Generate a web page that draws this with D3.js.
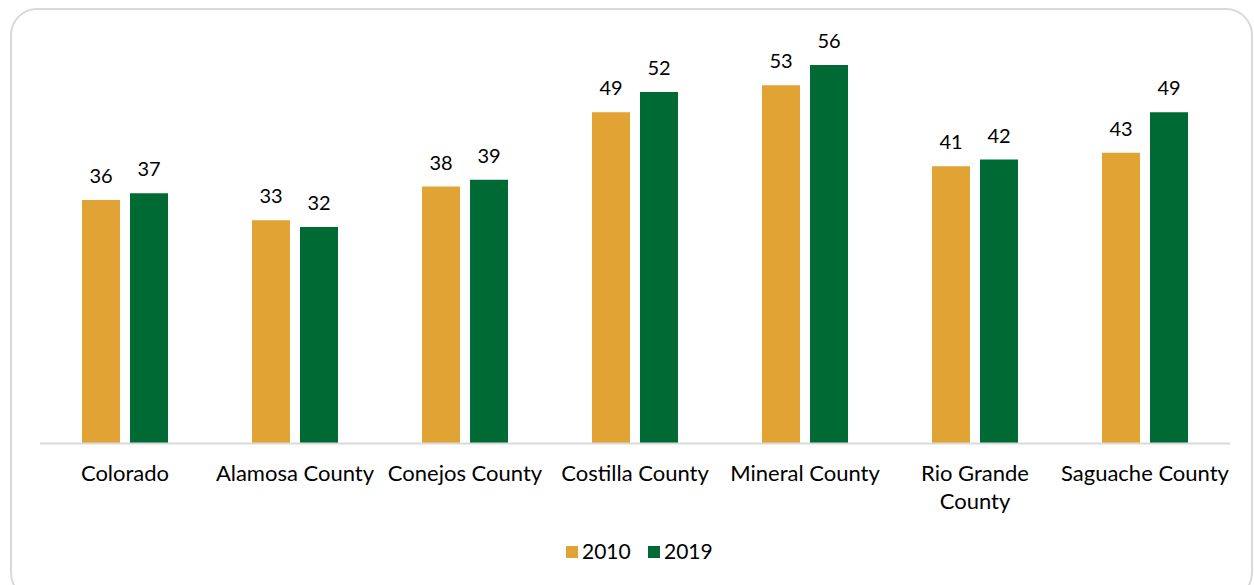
<!DOCTYPE html>
<html>
<head>
<meta charset="utf-8">
<script src="https://cdn.jsdelivr.net/npm/d3@7"></script>
<style>
  body { margin: 0; background: #fff; }
  svg text { font-family: Lato, "Open Sans", sans-serif; fill: #000; }
</style>
</head>
<body>
<div id="chart"></div>
<script>
// chart data
const categories = ["Colorado", "Alamosa County", "Conejos County", "Costilla County",
                    "Mineral County", "Rio Grande County", "Saguache County"];
const seriesNames = ["2010", "2019"];
const values2010 = [36, 33, 38, 49, 53, 41, 43];
const values2019 = [37, 32, 39, 52, 56, 42, 49];
const seriesColors = ["#E1A333", "#006A35"];

const W = 1254, H = 585;
const svg = d3.select("#chart").append("svg")
    .attr("width", W).attr("height", H);

// outer rounded frame
svg.append("rect")
    .attr("x", 11).attr("y", 9)
    .attr("width", 1241).attr("height", 590)
    .attr("rx", 26)
    .attr("fill", "#fff")
    .attr("stroke", "#d9d9d9").attr("stroke-width", 2);

const x = d3.scaleBand()
    .domain(categories)
    .range([40, 1230])
    .paddingInner(0.494).paddingOuter(0.247);

const xSub = d3.scaleBand()
    .domain(seriesNames)
    .range([0, x.bandwidth()])
    .paddingInner(0.208);

const y = d3.scaleLinear().domain([0, 60]).range([443, 38]);

const rows = categories.map((c, i) => ({
    cat: c,
    vals: [{s: "2010", v: values2010[i]}, {s: "2019", v: values2019[i]}]
}));

const color = d3.scaleOrdinal().domain(seriesNames).range(seriesColors);

const grp = svg.append("g").selectAll("g")
    .data(rows).join("g")
    .attr("transform", d => `translate(${x(d.cat)},0)`);

grp.selectAll("rect")
    .data(d => d.vals).join("rect")
    .attr("x", d => xSub(d.s))
    .attr("y", d => y(d.v))
    .attr("width", xSub.bandwidth())
    .attr("height", d => y(0) - y(d.v))
    .attr("fill", d => color(d.s));

grp.selectAll("text.val")
    .data(d => d.vals).join("text")
    .attr("class", "val")
    .attr("x", d => xSub(d.s) + xSub.bandwidth() / 2)
    .attr("y", d => y(d.v) - 17)
    .attr("text-anchor", "middle")
    .style("font-size", "20px")
    .text(d => d.v);

// baseline
svg.append("line")
    .attr("x1", 40).attr("x2", 1230)
    .attr("y1", y(0) + 0.5).attr("y2", y(0) + 0.5)
    .attr("stroke", "#d9d9d9").attr("stroke-width", 2);

// category labels (Rio Grande County wraps)
const wrapped = {"Rio Grande County": ["Rio Grande", "County"]};
categories.forEach(c => {
    const lines = wrapped[c] || [c];
    const t = svg.append("text")
        .attr("x", x(c) + x.bandwidth() / 2)
        .attr("y", 481)
        .attr("text-anchor", "middle")
        .style("font-size", "22px");
    lines.forEach((l, i) => {
        t.append("tspan")
            .attr("x", x(c) + x.bandwidth() / 2)
            .attr("dy", i === 0 ? 0 : 28)
            .text(l);
    });
});

// legend
const legend = svg.append("g").attr("transform", "translate(566,546)");
const legX = [0, 82];
seriesNames.forEach((s, i) => {
    const g = legend.append("g").attr("transform", `translate(${legX[i]},0)`);
    g.append("rect").attr("width", 12).attr("height", 12).attr("fill", color(s));
    g.append("text").attr("x", 16).attr("y", 12.5)
        .style("font-size", "21px").text(s);
});
</script>
</body>
</html>
